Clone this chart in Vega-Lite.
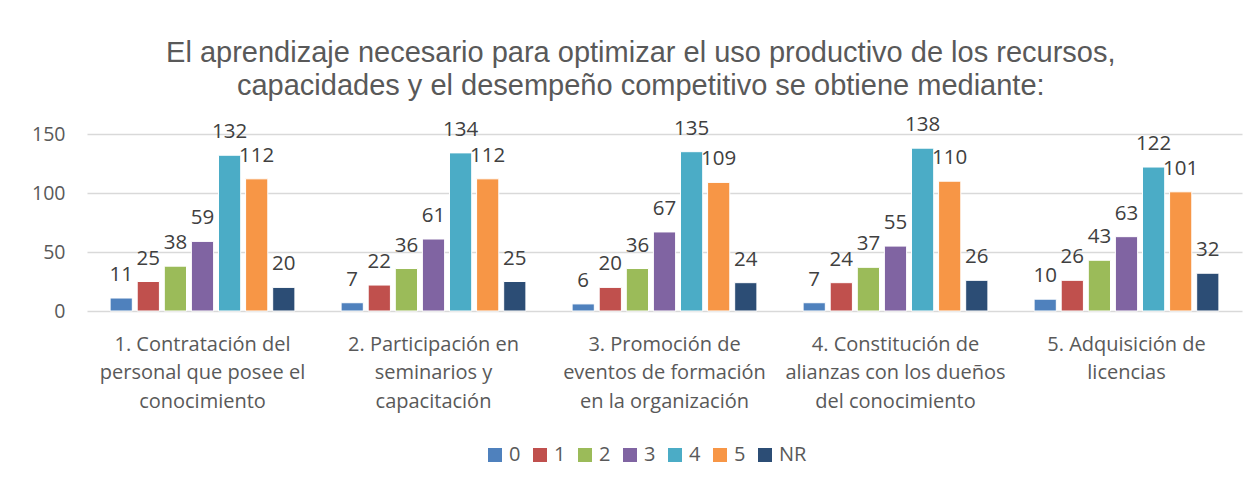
{
  "$schema": "https://vega.github.io/schema/vega-lite/v6.json",
  "width": 1155,
  "height": 177,
  "autosize": {"type": "none"},
  "padding": {"left": 87, "top": 134, "right": 17, "bottom": 176},
  "background": "white",
  "title": {
    "text": ["El aprendizaje necesario para optimizar el uso productivo de los recursos,", "capacidades y el desempeño competitivo se obtiene mediante:"],
    "font": "Liberation Sans",
    "fontSize": 29,
    "fontWeight": "normal",
    "color": "#595959",
    "anchor": "middle",
    "frame": "bounds",
    "lineHeight": 33,
    "offset": 14,
    "dx": 4
  },
  "data": {
    "values": [
      {"cat": "1. Contratación del|personal que posee el|conocimiento", "s": "0", "v": 11},
      {"cat": "1. Contratación del|personal que posee el|conocimiento", "s": "1", "v": 25},
      {"cat": "1. Contratación del|personal que posee el|conocimiento", "s": "2", "v": 38},
      {"cat": "1. Contratación del|personal que posee el|conocimiento", "s": "3", "v": 59},
      {"cat": "1. Contratación del|personal que posee el|conocimiento", "s": "4", "v": 132},
      {"cat": "1. Contratación del|personal que posee el|conocimiento", "s": "5", "v": 112},
      {"cat": "1. Contratación del|personal que posee el|conocimiento", "s": "NR", "v": 20},
      {"cat": "2. Participación en|seminarios y|capacitación", "s": "0", "v": 7},
      {"cat": "2. Participación en|seminarios y|capacitación", "s": "1", "v": 22},
      {"cat": "2. Participación en|seminarios y|capacitación", "s": "2", "v": 36},
      {"cat": "2. Participación en|seminarios y|capacitación", "s": "3", "v": 61},
      {"cat": "2. Participación en|seminarios y|capacitación", "s": "4", "v": 134},
      {"cat": "2. Participación en|seminarios y|capacitación", "s": "5", "v": 112},
      {"cat": "2. Participación en|seminarios y|capacitación", "s": "NR", "v": 25},
      {"cat": "3. Promoción de|eventos de formación|en la organización", "s": "0", "v": 6},
      {"cat": "3. Promoción de|eventos de formación|en la organización", "s": "1", "v": 20},
      {"cat": "3. Promoción de|eventos de formación|en la organización", "s": "2", "v": 36},
      {"cat": "3. Promoción de|eventos de formación|en la organización", "s": "3", "v": 67},
      {"cat": "3. Promoción de|eventos de formación|en la organización", "s": "4", "v": 135},
      {"cat": "3. Promoción de|eventos de formación|en la organización", "s": "5", "v": 109},
      {"cat": "3. Promoción de|eventos de formación|en la organización", "s": "NR", "v": 24},
      {"cat": "4. Constitución de|alianzas con los dueños|del conocimiento", "s": "0", "v": 7},
      {"cat": "4. Constitución de|alianzas con los dueños|del conocimiento", "s": "1", "v": 24},
      {"cat": "4. Constitución de|alianzas con los dueños|del conocimiento", "s": "2", "v": 37},
      {"cat": "4. Constitución de|alianzas con los dueños|del conocimiento", "s": "3", "v": 55},
      {"cat": "4. Constitución de|alianzas con los dueños|del conocimiento", "s": "4", "v": 138},
      {"cat": "4. Constitución de|alianzas con los dueños|del conocimiento", "s": "5", "v": 110},
      {"cat": "4. Constitución de|alianzas con los dueños|del conocimiento", "s": "NR", "v": 26},
      {"cat": "5. Adquisición de|licencias", "s": "0", "v": 10},
      {"cat": "5. Adquisición de|licencias", "s": "1", "v": 26},
      {"cat": "5. Adquisición de|licencias", "s": "2", "v": 43},
      {"cat": "5. Adquisición de|licencias", "s": "3", "v": 63},
      {"cat": "5. Adquisición de|licencias", "s": "4", "v": 122},
      {"cat": "5. Adquisición de|licencias", "s": "5", "v": 101},
      {"cat": "5. Adquisición de|licencias", "s": "NR", "v": 32}
    ]
  },
  "encoding": {
    "x": {
      "field": "cat",
      "type": "nominal",
      "sort": null,
      "scale": {"paddingInner": 0.2, "paddingOuter": 0.1},
      "axis": {
        "title": null,
        "labelAngle": 0,
        "labelExpr": "split(datum.label, '|')",
        "labelFont": "Open Sans",
        "labelFontSize": 20,
        "labelColor": "#595959",
        "labelLineHeight": 28.5,
        "labelPadding": 23,
        "labelLimit": 300,
        "ticks": false,
        "domain": false
      }
    },
    "xOffset": {
      "field": "s",
      "type": "nominal",
      "scale": {"paddingInner": 0.18, "paddingOuter": 0}
    },
    "y": {
      "field": "v",
      "type": "quantitative",
      "scale": {"domain": [0, 150], "nice": false},
      "axis": {
        "title": null,
        "values": [0, 50, 100, 150],
        "labelFont": "Open Sans",
        "labelFontSize": 19.5,
        "labelColor": "#595959",
        "labelPadding": 22,
        "ticks": false,
        "domain": false,
        "gridColor": "#D9D9D9",
        "gridWidth": 1.3
      }
    }
  },
  "layer": [
    {
      "mark": {"type": "bar", "stroke": "white", "strokeWidth": 1},
      "encoding": {
        "color": {
          "field": "s",
          "type": "nominal",
          "scale": {
            "domain": ["0", "1", "2", "3", "4", "5", "NR"],
            "range": ["#4F81BD", "#C0504D", "#9BBB59", "#8064A2", "#4BACC6", "#F79646", "#2C4D75"]
          },
          "legend": {
            "title": null,
            "orient": "none",
            "direction": "horizontal",
            "legendX": 398,
            "legendY": 311,
            "symbolType": "square",
            "symbolSize": 196,
            "symbolStrokeWidth": 0,
            "labelFont": "Open Sans",
            "labelFontSize": 20,
            "labelColor": "#595959",
            "labelOffset": 4,
            "columnPadding": 9
          }
        }
      }
    },
    {
      "mark": {"type": "text", "baseline": "alphabetic", "dy": -17, "font": "Open Sans", "fontSize": 20.5, "color": "#404040"},
      "encoding": {
        "text": {"field": "v", "type": "quantitative"}
      }
    }
  ],
  "config": {"view": {"stroke": null}}
}
